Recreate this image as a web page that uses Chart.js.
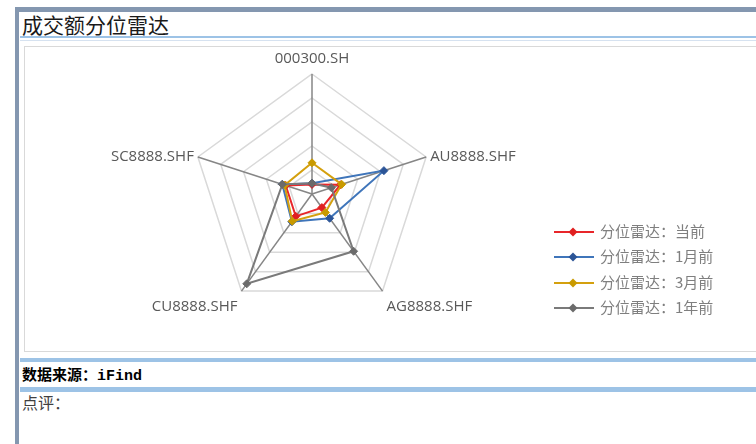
<!DOCTYPE html>
<html>
<head>
<meta charset="utf-8">
<script src="https://cdn.jsdelivr.net/npm/chart.js@4/dist/chart.umd.min.js"></script>
<style>
  body { margin: 0; width: 756px; height: 444px; overflow: hidden; background: #fff; position: relative; font-family: "Noto Sans CJK SC", sans-serif; }
  .bar { position: absolute; background: #8497b0; }
  .rule { position: absolute; left: 20px; width: 740px; background: #9dc3e6; }
  #title { position: absolute; left: 22px; top: 11px; font-size: 21px; line-height: 26px; color: #1a1a1a; }
  #box { position: absolute; left: 24px; top: 46px; width: 740px; height: 306px; border: 1.5px solid #d9d9d9; box-sizing: border-box; }
  #chart { position: absolute; left: 25px; top: 48px; }
  #source { position: absolute; left: 22px; top: 364px; font-size: 15px; line-height: 20px; font-weight: bold; color: #000; }
  #source b { font-family: "Liberation Mono", monospace; }
  #comment { position: absolute; left: 22px; top: 392px; font-size: 16px; line-height: 20px; color: #404040; }
  #legend { position: absolute; left: 554px; top: 0; }
  .item { position: absolute; left: 0; height: 20px; white-space: nowrap; font-size: 15px; line-height: 20px; color: #7f7f7f; }
  .item canvas { vertical-align: middle; margin-right: 6px; position: relative; top: -1px; }
</style>
</head>
<body>
<div class="bar" style="left:15px;top:7px;width:741px;height:5px"></div>
<div class="bar" style="left:15px;top:7px;width:4px;height:437px"></div>
<div id="title">成交额分位雷达</div>
<div class="rule" style="top:36px;height:2px"></div>
<div class="rule" style="top:40px;height:1px;background:#d6e2f0"></div>
<div id="box"></div>
<canvas id="chart" width="731" height="304"></canvas>
<div id="legend"></div>
<div class="rule" style="top:358px;height:4px"></div>
<div id="source">数据来源：<b>iFind</b></div>
<div class="rule" style="top:387px;height:5px"></div>
<div id="comment">点评：</div>
<script>
// Axis categories, clockwise from the top
const categories = ["000300.SH", "AU8888.SHF", "AG8888.SHF", "CU8888.SHF", "SC8888.SHF"];
// Series names
const seriesNames = ["分位雷达：当前", "分位雷达：1月前", "分位雷达：3月前", "分位雷达：1年前"];
// Percentile values (0 to 1)
const nowValues = [0.08, 0.25, 0.14, 0.23, 0.23];
const oneMonthValues = [0.09, 0.63, 0.25, 0.285, 0.26];
const threeMonthValues = [0.26, 0.26, 0.19, 0.28, 0.24];
const oneYearValues = [0.09, 0.17, 0.59, 0.925, 0.26];
// Ring ticks
const tickValues = [0, 0.2, 0.4, 0.6, 0.8, 1];

const lineColors = ["#e8262a", "#3f75ba", "#d4a00e", "#7a7a7a"];
const pointColors = ["#e02020", "#2c5597", "#c99a00", "#6b6b6b"];
const allValues = [nowValues, oneMonthValues, threeMonthValues, oneYearValues];

// Excel-like point labels placed around the pentagon vertices
const excelPointLabels = {
  id: "excelPointLabels",
  afterDraw(chart) {
    const scale = chart.scales.r;
    const ctx = chart.ctx;
    ctx.save();
    ctx.font = '15px "Open Sans", "Noto Sans", sans-serif';
    ctx.fillStyle = "#595959";
    categories.forEach((label, i) => {
      const pos = scale.getPointPosition(i, scale.drawingArea);
      const angle = Math.round(scale.getIndexAngle(i) * 180 / Math.PI);
      let x = pos.x;
      let y = pos.y;
      ctx.textBaseline = "middle";
      if (angle === 0) {
        ctx.textAlign = "center";
        y -= 15;
      } else if (angle < 180) {
        ctx.textAlign = "left";
        x += 4;
      } else {
        ctx.textAlign = "right";
        x -= 4;
      }
      if (angle > 90 && angle < 270) y += 16;
      ctx.fillText(label, x, y);
    });
    ctx.restore();
  }
};

const chart = new Chart(document.getElementById("chart"), {
  type: "radar",
  data: {
    labels: categories,
    datasets: allValues.map((values, i) => ({
      label: seriesNames[i],
      data: values,
      borderColor: lineColors[i],
      backgroundColor: pointColors[i],
      pointBackgroundColor: pointColors[i],
      pointBorderColor: pointColors[i],
      borderWidth: 2,
      pointStyle: "rectRot",
      pointRadius: 4,
      pointBorderWidth: 1,
      fill: false,
      tension: 0,
      // Last series is drawn on top, like the original
      order: allValues.length - i
    }))
  },
  options: {
    responsive: false,
    animation: false,
    devicePixelRatio: 1,
    layout: { padding: { left: 47, right: 204, top: 26, bottom: 38 } },
    plugins: { legend: { display: false }, tooltip: { enabled: false } },
    scales: {
      r: {
        min: tickValues[0],
        max: tickValues[tickValues.length - 1],
        ticks: { display: false, stepSize: tickValues[1] - tickValues[0] },
        grid: { color: "#d9d9d9", lineWidth: 1.5 },
        angleLines: { color: "#868686", lineWidth: 1.5 },
        pointLabels: { display: false }
      }
    }
  },
  plugins: [excelPointLabels]
});

// HTML legend with line-and-diamond keys
const legendRows = [231, 256, 282, 307];
const legendEl = document.getElementById("legend");
seriesNames.forEach((name, i) => {
  const row = document.createElement("div");
  row.className = "item";
  row.style.top = (legendRows[i] - 10) + "px";
  const key = document.createElement("canvas");
  key.width = 40;
  key.height = 12;
  const k = key.getContext("2d");
  k.strokeStyle = lineColors[i];
  k.lineWidth = 2;
  k.beginPath();
  k.moveTo(0, 6);
  k.lineTo(40, 6);
  k.stroke();
  k.fillStyle = pointColors[i];
  k.beginPath();
  k.moveTo(19, 1.5);
  k.lineTo(23.5, 6);
  k.lineTo(19, 10.5);
  k.lineTo(14.5, 6);
  k.closePath();
  k.fill();
  row.appendChild(key);
  const text = document.createElement("span");
  text.innerText = name;
  row.appendChild(text);
  legendEl.appendChild(row);
});
</script>
</body>
</html>
